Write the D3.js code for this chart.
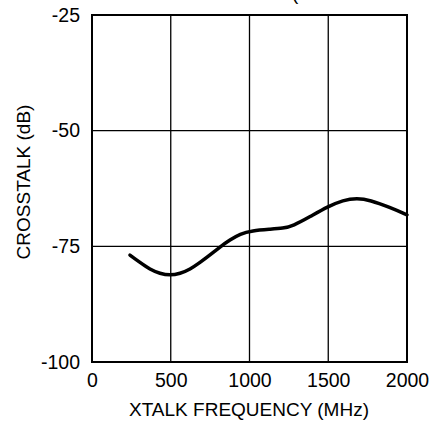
<!DOCTYPE html>
<html><head><meta charset="utf-8">
<script src="https://cdn.jsdelivr.net/npm/d3@7"></script>
<style>body{margin:0;background:#fff}svg{display:block}text{font-family:"Liberation Sans",Arial,sans-serif;fill:#000}</style>
</head><body><div id="chart"></div>
<script>
const freqMHz = [241, 305, 368, 432, 495, 559, 622, 686, 749, 813, 876, 940, 1016, 1130, 1213, 1276, 1384, 1498, 1594, 1683, 1765, 1892, 2000];
const crosstalkDb = [-76.9, -78.5, -80.0, -80.9, -81.3, -80.9, -80.0, -78.5, -76.9, -75.1, -73.6, -72.3, -71.6, -71.3, -71.1, -70.6, -68.6, -66.4, -65.0, -64.6, -65.0, -66.6, -68.2];
const xTicks = [0, 500, 1000, 1500, 2000];
const yTicks = [-100, -75, -50, -25];
const xTitle = "XTALK FREQUENCY (MHz)";
const yTitle = "CROSSTALK (dB)";

const W = 430, H = 424;
const m = {l: 92, r: 23, t: 15, b: 62};
const FONT = '"Liberation Sans",Arial,sans-serif';
const svg = d3.select("#chart").append("svg").attr("width", W).attr("height", H);
const x = d3.scaleLinear().domain([0, 2000]).range([m.l, W - m.r]);
const y = d3.scaleLinear().domain([-100, -25]).range([H - m.b, m.t]);

// cut-off title fragment (as in reference)
svg.append("text").attr("x", 292).attr("y", 0).attr("font-size", 19).text("(");

// grid
svg.append("g").selectAll("line").data(xTicks.slice(1, -1)).join("line")
  .attr("x1", d => x(d)).attr("x2", d => x(d)).attr("y1", m.t).attr("y2", H - m.b)
  .attr("stroke", "#000").attr("stroke-width", 1.3);
svg.append("g").selectAll("line").data(yTicks.slice(1, -1)).join("line")
  .attr("y1", d => y(d)).attr("y2", d => y(d)).attr("x1", m.l).attr("x2", W - m.r)
  .attr("stroke", "#000").attr("stroke-width", 1.3);

// frame
svg.append("rect").attr("x", m.l).attr("y", m.t).attr("width", W - m.l - m.r).attr("height", H - m.t - m.b)
  .attr("fill", "none").attr("stroke", "#000").attr("stroke-width", 2);

// axes
const xa = svg.append("g").attr("transform", `translate(0,${H - m.b})`)
  .call(d3.axisBottom(x).tickValues(xTicks).tickSize(0).tickPadding(11).tickFormat(d3.format("d")));
xa.select(".domain").remove();
xa.selectAll("text").attr("font-size", 19.5).style("font-family", FONT);
const ya = svg.append("g").attr("transform", `translate(${m.l},0)`)
  .call(d3.axisLeft(y).tickValues(yTicks).tickSize(0).tickPadding(12).tickFormat(d => d));
ya.select(".domain").remove();
ya.selectAll("text").attr("font-size", 19.5).style("font-family", FONT);

// titles
svg.append("text").attr("x", 249).attr("y", 416).attr("text-anchor", "middle")
  .attr("font-size", 19).text(xTitle);
svg.append("text").attr("transform", `translate(30,182) rotate(-90)`)
  .attr("text-anchor", "middle").attr("font-size", 19).text(yTitle);

// curve
svg.append("path").datum(freqMHz.map((f, i) => [f, crosstalkDb[i]]))
  .attr("fill", "none").attr("stroke", "#000").attr("stroke-width", 3.5).attr("stroke-linecap", "round")
  .attr("d", d3.line().x(d => x(d[0])).y(d => y(d[1])).curve(d3.curveBasis));
</script></body></html>
